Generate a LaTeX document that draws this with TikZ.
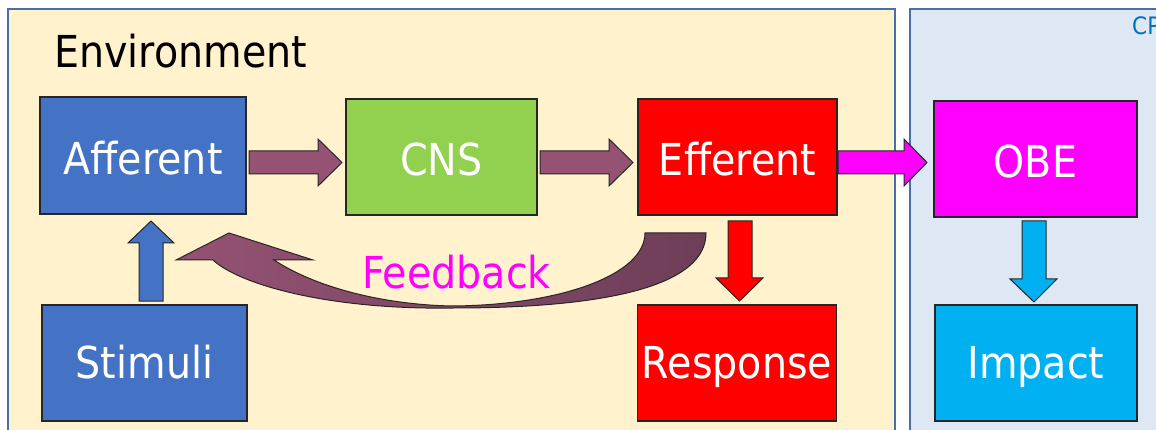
\documentclass[tikz,border=0pt]{standalone}
\usepackage{fontspec}
\setmainfont{DejaVu Sans}[FakeStretch=0.9]
\definecolor{envfill}{HTML}{FFF2CC}
\definecolor{cpfill}{HTML}{DEE7F4}
\definecolor{panelline}{HTML}{4A6FA8}
\definecolor{boxblue}{HTML}{4472C4}
\definecolor{boxgreen}{HTML}{92D050}
\definecolor{boxred}{HTML}{FF0000}
\definecolor{boxmag}{HTML}{FF00FF}
\definecolor{boxcyan}{HTML}{00B0F0}
\definecolor{arrowpurple}{HTML}{955273}
\definecolor{arrowdark}{HTML}{6E3E58}
\definecolor{cpblue}{HTML}{0070C0}
\definecolor{edge}{HTML}{262626}
\tikzset{
  panel/.style={draw=panelline, line width=1.3pt},
  box/.style={draw=edge, line width=1.3pt, rectangle, inner sep=0pt,
    text=white, font=\fontsize{44}{44}\selectfont},
  toprow/.style={box, text height=38pt, text depth=0pt},
  botrow/.style={box, text height=31pt, text depth=0pt},
  blockarrow/.style={draw=edge, line width=1pt, line join=miter},
}
\begin{document}
\begin{tikzpicture}[x=1pt,y=-1pt]
\useasboundingbox (0,0) rectangle (1156,430);
\clip (0,0) rectangle (1156,430);
\fill[white] (0,0) rectangle (1156,430);
% panels
\draw[panel, fill=envfill] (8,9) rectangle (895,440);
\draw[panel, fill=cpfill] (910,9) rectangle (1170,440);
\node[anchor=base west, text=cpblue, font=\fontsize{24}{24}\selectfont, inner sep=0pt] (cp) at (1132,35) {CP};
\node[anchor=base west, inner sep=0pt, font=\fontsize{44}{44}\selectfont] (env) at (54,68) {Environment};
% boxes
\node[toprow, fill=boxblue, minimum width=206pt, minimum height=117pt] (aff) at (143,155.5) {Afferent};
\node[toprow, fill=boxgreen, minimum width=191pt, minimum height=116pt] (cns) at (441.5,157) {CNS};
\node[toprow, fill=boxred, minimum width=199pt, minimum height=116pt] (eff) at (737.5,157) {Efferent};
\node[toprow, fill=boxmag, minimum width=203pt, minimum height=116pt] (obe) at (1035.5,159) {OBE};
\node[botrow, fill=boxblue, minimum width=205pt, minimum height=116pt] (sti) at (144.5,363) {Stimuli};
\node[botrow, fill=boxred, minimum width=199pt, minimum height=116pt] (resp) at (737,363) {Response};
\node[botrow, fill=boxcyan, minimum width=202pt, minimum height=116pt] (imp) at (1036,363) {Impact};
% straight block arrows
\draw[blockarrow, fill=arrowpurple] (249,151) -- (318,151) -- (318,139) -- (342,162.5) -- (318,186) -- (318,174) -- (249,174) -- cycle;
\draw[blockarrow, fill=arrowpurple] (540,151) -- (609,151) -- (609,139) -- (633,162.5) -- (609,186) -- (609,174) -- (540,174) -- cycle;
\draw[blockarrow, fill=boxmag] (838,151) -- (904,151) -- (904,139) -- (927,162.5) -- (904,186) -- (904,174) -- (838,174) -- cycle;
\draw[blockarrow, fill=boxred] (728,221) -- (752,221) -- (752,278) -- (763,278) -- (739.5,301) -- (716,278) -- (728,278) -- cycle;
\draw[blockarrow, fill=boxcyan] (1022,221) -- (1046,221) -- (1046,279) -- (1057,279) -- (1034,302) -- (1010,279) -- (1022,279) -- cycle;
\draw[blockarrow, fill=boxblue] (139,301) -- (139,243) -- (128,243) -- (151,221) -- (174,243) -- (163,243) -- (163,301) -- cycle;
% feedback curved arrow
\draw[blockarrow, left color=arrowpurple, right color=arrowdark]
  (645,233) -- (706,233)
  .. controls (706,285) and (610,308) .. (453,308)
  .. controls (330,310) and (240,285) .. (213,260)
  -- (176,260) -- (229,233) -- (313,260) -- (274,260)
  .. controls (320,290) and (390,305) .. (453,306)
  .. controls (560,305) and (645,275) .. (645,233) -- cycle;
\node[anchor=base west, inner sep=0pt, text=boxmag, font=\fontsize{44}{44}\selectfont] (fb) at (362,288) {Feedback};
\end{tikzpicture}
\end{document}
